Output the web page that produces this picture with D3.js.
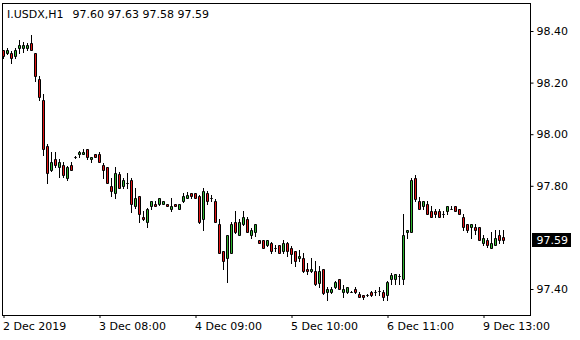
<!DOCTYPE html>
<html>
<head>
<meta charset="utf-8">
<script src="https://cdn.jsdelivr.net/npm/d3@7"></script>
<style>
  html, body { margin: 0; padding: 0; background: #ffffff; }
  svg { display: block; }
  text { font-family: "DejaVu Sans", Verdana, sans-serif; font-size: 11px; fill: #000; }
</style>
</head>
<body>
<svg id="chart" width="580" height="340"></svg>
<script>
// ---- data (H1 candles, I.USDX) ----
const symbol = "I.USDX,H1";
const lastQuote = ["97.60", "97.63", "97.58", "97.59"];

const open = [
  98.325, 98.314, 98.314, 98.302, 98.333, 98.333, 98.333, 98.352, 98.314, 98.213,
  98.131, 97.953, 97.860, 97.903, 97.872, 97.879, 97.829, 97.879, 97.910, 97.922,
  97.922, 97.941, 97.903, 97.922, 97.922, 97.879, 97.872, 97.798, 97.771, 97.845,
  97.798, 97.810, 97.821, 97.721, 97.759, 97.678, 97.659, 97.721, 97.728, 97.728,
  97.728, 97.728, 97.709, 97.728, 97.709, 97.740, 97.752, 97.771, 97.771, 97.759,
  97.670, 97.771, 97.752, 97.740, 97.651, 97.546, 97.519, 97.538, 97.659, 97.608,
  97.651, 97.670, 97.608, 97.620, 97.589, 97.589, 97.569, 97.577, 97.558, 97.569,
  97.546, 97.577, 97.558, 97.546, 97.519, 97.519, 97.476, 97.469, 97.469, 97.422,
  97.476, 97.387, 97.387, 97.407, 97.438, 97.387, 97.387, 97.387, 97.399, 97.379,
  97.376, 97.376, 97.387, 97.387, 97.391, 97.387, 97.376, 97.438, 97.438, 97.449,
  97.438, 97.620, 97.620, 97.829, 97.740, 97.721, 97.728, 97.701, 97.701, 97.701,
  97.690, 97.701, 97.709, 97.721, 97.709, 97.678, 97.651, 97.639, 97.639, 97.639,
  97.577, 97.589, 97.558, 97.569, 97.608, 97.600
];
const high = [
  98.328, 98.333, 98.321, 98.333, 98.364, 98.356, 98.352, 98.384, 98.314, 98.224,
  98.155, 97.961, 97.930, 97.930, 97.903, 97.891, 97.876, 97.891, 97.914, 97.934,
  97.941, 97.941, 97.910, 97.922, 97.930, 97.887, 97.872, 97.829, 97.872, 97.852,
  97.829, 97.848, 97.829, 97.790, 97.759, 97.701, 97.713, 97.740, 97.740, 97.752,
  97.740, 97.728, 97.752, 97.728, 97.728, 97.771, 97.775, 97.771, 97.771, 97.763,
  97.790, 97.779, 97.763, 97.748, 97.670, 97.546, 97.608, 97.659, 97.701, 97.670,
  97.701, 97.678, 97.635, 97.651, 97.589, 97.589, 97.589, 97.581, 97.569, 97.569,
  97.589, 97.581, 97.566, 97.546, 97.550, 97.538, 97.500, 97.519, 97.507, 97.488,
  97.476, 97.407, 97.407, 97.430, 97.438, 97.414, 97.407, 97.391, 97.407, 97.387,
  97.376, 97.379, 97.391, 97.395, 97.407, 97.395, 97.430, 97.461, 97.457, 97.457,
  97.690, 97.628, 97.829, 97.841, 97.755, 97.740, 97.740, 97.721, 97.709, 97.709,
  97.701, 97.721, 97.721, 97.721, 97.709, 97.690, 97.651, 97.651, 97.651, 97.639,
  97.608, 97.597, 97.620, 97.628, 97.628, 97.630
];
const low = [
  98.295, 98.310, 98.275, 98.294, 98.314, 98.317, 98.325, 98.325, 98.205, 98.131,
  97.921, 97.810, 97.856, 97.872, 97.833, 97.833, 97.821, 97.860, 97.907, 97.910,
  97.922, 97.903, 97.891, 97.910, 97.891, 97.829, 97.810, 97.759, 97.752, 97.790,
  97.790, 97.790, 97.700, 97.713, 97.659, 97.666, 97.639, 97.709, 97.721, 97.724,
  97.728, 97.721, 97.701, 97.721, 97.709, 97.736, 97.752, 97.752, 97.752, 97.655,
  97.628, 97.728, 97.740, 97.659, 97.538, 97.476, 97.426, 97.538, 97.616, 97.608,
  97.647, 97.620, 97.597, 97.604, 97.577, 97.558, 97.566, 97.538, 97.546, 97.538,
  97.538, 97.527, 97.500, 97.488, 97.507, 97.465, 97.457, 97.465, 97.414, 97.407,
  97.379, 97.356, 97.383, 97.403, 97.399, 97.368, 97.383, 97.387, 97.383, 97.368,
  97.360, 97.372, 97.372, 97.376, 97.376, 97.356, 97.356, 97.418, 97.418, 97.418,
  97.418, 97.597, 97.620, 97.740, 97.709, 97.709, 97.690, 97.678, 97.678, 97.678,
  97.678, 97.690, 97.709, 97.701, 97.690, 97.628, 97.620, 97.597, 97.612, 97.589,
  97.569, 97.562, 97.558, 97.569, 97.577, 97.580
];
const close = [
  98.302, 98.325, 98.294, 98.325, 98.345, 98.345, 98.345, 98.325, 98.224, 98.143,
  97.941, 97.848, 97.891, 97.879, 97.891, 97.841, 97.872, 97.860, 97.910, 97.930,
  97.930, 97.910, 97.910, 97.910, 97.891, 97.860, 97.810, 97.779, 97.848, 97.790,
  97.821, 97.810, 97.728, 97.752, 97.690, 97.670, 97.709, 97.740, 97.721, 97.752,
  97.740, 97.721, 97.721, 97.721, 97.728, 97.759, 97.763, 97.759, 97.752, 97.659,
  97.779, 97.740, 97.752, 97.659, 97.538, 97.507, 97.608, 97.651, 97.620, 97.659,
  97.678, 97.620, 97.628, 97.651, 97.577, 97.558, 97.589, 97.546, 97.558, 97.538,
  97.577, 97.546, 97.535, 97.507, 97.527, 97.469, 97.469, 97.476, 97.418, 97.469,
  97.383, 97.399, 97.399, 97.426, 97.399, 97.399, 97.407, 97.387, 97.387, 97.368,
  97.368, 97.376, 97.376, 97.387, 97.391, 97.368, 97.426, 97.453, 97.457, 97.449,
  97.608, 97.628, 97.821, 97.748, 97.709, 97.740, 97.690, 97.678, 97.690, 97.678,
  97.690, 97.721, 97.709, 97.701, 97.690, 97.639, 97.628, 97.651, 97.628, 97.589,
  97.597, 97.569, 97.577, 97.597, 97.589, 97.590
];

const priceTicks = [98.40, 98.20, 98.00, 97.80, 97.40];
const currentPrice = 97.59;
const timeTickIndex = [0, 24, 48, 72, 96, 120];
const timeTickLabels = ["2 Dec 2019", "3 Dec 08:00", "4 Dec 09:00", "5 Dec 10:00", "6 Dec 11:00", "9 Dec 13:00"];

// ---- layout ----
const svg = d3.select("#chart");
const frame = { left: 2.5, top: 3.5, right: 530.5, bottom: 315.5 };
const bullColor = "#2fb42f";
const bearColor = "#e01414";

const x = d3.scaleLinear().domain([0, open.length - 1]).range([3, 3 + 4 * (open.length - 1)]);
const y = d3.scaleLinear().domain([97.40, 98.40]).range([289, 31]);

// frame
svg.append("rect")
  .attr("x", frame.left).attr("y", frame.top)
  .attr("width", frame.right - frame.left).attr("height", frame.bottom - frame.top)
  .attr("fill", "none").attr("stroke", "#000").attr("stroke-width", 1);

// header
svg.append("text").attr("x", 7).attr("y", 17.5).text(symbol);
svg.append("text").attr("x", 72.5).attr("y", 17.5).text(lastQuote.join(" "));

// candles
const idx = d3.range(open.length);
const g = svg.append("g");
g.selectAll("line.wick").data(idx).join("line")
  .attr("class", "wick")
  .attr("x1", i => x(i) + 0.5).attr("x2", i => x(i) + 0.5)
  .attr("y1", i => Math.round(y(high[i]))).attr("y2", i => Math.round(y(low[i])) + 1)
  .attr("stroke", "#000").attr("stroke-width", 1);

g.selectAll("path.body").data(idx).join("path")
  .attr("class", "body")
  .attr("d", i => {
    const t = Math.round(y(Math.max(open[i], close[i]))) + 0.5;
    const b = Math.round(y(Math.min(open[i], close[i]))) + 0.5;
    const l = x(i) - 0.5;
    return `M${l},${t}h2V${b}h-2Z`;
  })
  .attr("fill", i => close[i] > open[i] ? bullColor : (close[i] < open[i] ? bearColor : "none"))
  .attr("stroke", "#000").attr("stroke-width", 1);

// right price axis
const yAxis = d3.axisRight(y).tickValues(priceTicks).tickSize(3).tickPadding(3)
  .tickFormat(d3.format(".2f"));
const ya = svg.append("g").attr("transform", `translate(${frame.right},0)`).call(yAxis);
ya.select(".domain").remove();
ya.selectAll("text").attr("font-family", "DejaVu Sans").attr("font-size", 11).attr("fill", "#000");
ya.selectAll("line").attr("stroke", "#000");

// current price marker
const cy = Math.round(y(currentPrice));
svg.append("rect").attr("x", 532).attr("y", cy - 7).attr("width", 39).attr("height", 14).attr("fill", "#000");
svg.append("text").attr("x", 536.5).attr("y", cy + 4).attr("fill", "#fff").style("fill", "#fff")
  .text(d3.format(".2f")(currentPrice));

// bottom time axis
const xAxis = d3.axisBottom(x).tickValues(timeTickIndex).tickSize(3).tickPadding(4)
  .tickFormat((d, k) => timeTickLabels[k]);
const xa = svg.append("g").attr("transform", `translate(0.5,${frame.bottom - 0.5})`).call(xAxis);
xa.select(".domain").remove();
xa.selectAll("text").attr("text-anchor", "start").attr("x", -1)
  .attr("font-family", "DejaVu Sans").attr("font-size", 11).attr("fill", "#000");
xa.selectAll("line").attr("stroke", "#000");
</script>
</body>
</html>
